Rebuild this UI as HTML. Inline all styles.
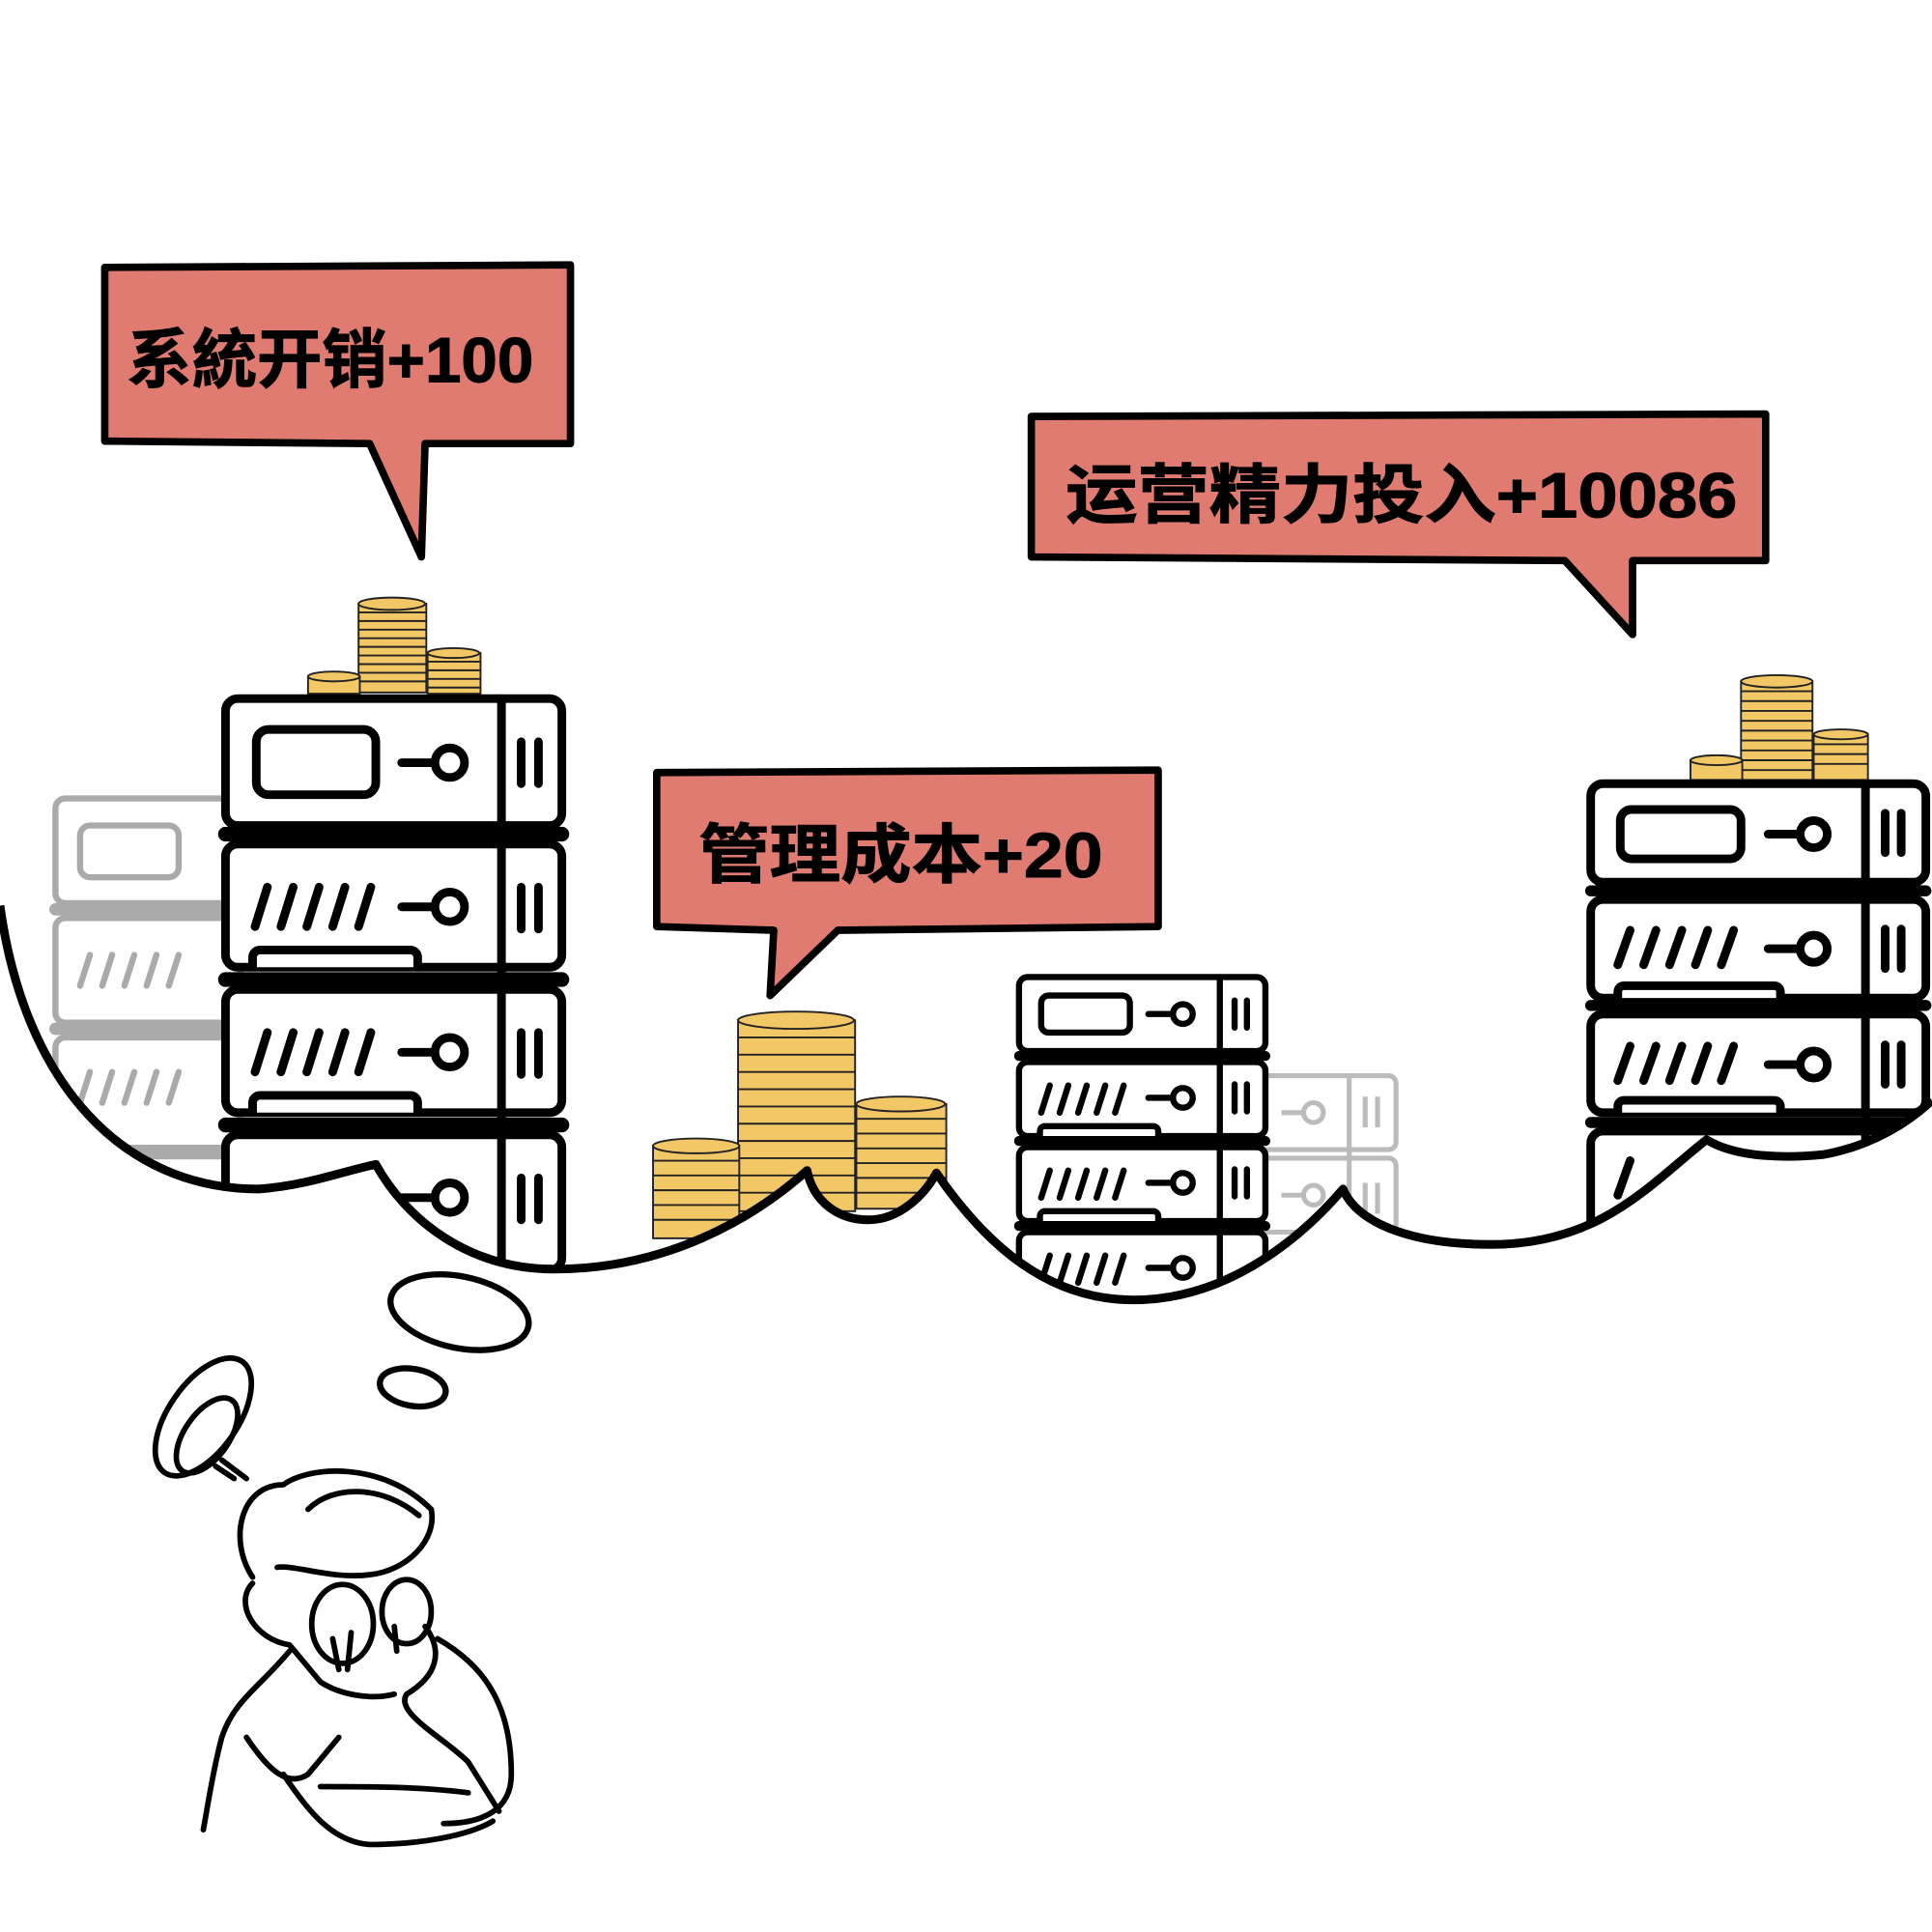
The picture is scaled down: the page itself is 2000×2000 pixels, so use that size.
<!DOCTYPE html>
<html><head><meta charset="utf-8"><style>
html,body{margin:0;padding:0;background:#fff;}
svg{display:block}
text{font-family:"Liberation Sans","Noto Sans CJK SC",sans-serif;}
</style></head><body>
<svg width="2000" height="2000" viewBox="0 0 1568 1568" xmlns="http://www.w3.org/2000/svg">
<rect width="1568" height="1568" fill="#fff"/>

<g fill="#fff" stroke="#aaa" stroke-width="5">
<rect x="45" y="648" width="150" height="85" rx="8"/>
<rect x="65" y="670" width="80" height="42" rx="8"/>
<rect x="45" y="745" width="150" height="85" rx="8"/>
<rect x="45" y="842" width="150" height="95" rx="8"/>
</g>
<g stroke="#aaa" stroke-width="5" stroke-linecap="round">
<line x1="45" y1="738" x2="190" y2="738" stroke-width="10"/>
<line x1="45" y1="835" x2="190" y2="835" stroke-width="10"/>
<line x1="45" y1="935" x2="190" y2="935" stroke-width="12"/>
<path d="M65 800 l8 -25 M83 800 l8 -25 M101 800 l8 -25 M119 800 l8 -25 M137 800 l8 -25"/>
<path d="M65 895 l8 -25 M83 895 l8 -25 M101 895 l8 -25 M119 895 l8 -25 M137 895 l8 -25"/>
</g>
<g fill="#fff" stroke="#bbb" stroke-width="4">
<rect x="1020" y="873" width="113" height="60" rx="6"/>
<rect x="1020" y="940" width="113" height="60" rx="6"/>
<line x1="1095" y1="873" x2="1095" y2="1000"/>
<circle cx="1066" cy="903" r="8"/><line x1="1040" y1="903" x2="1058" y2="903"/>
<circle cx="1066" cy="970" r="8"/><line x1="1040" y1="970" x2="1058" y2="970"/>
<line x1="1108" y1="890" x2="1108" y2="915"/><line x1="1118" y1="890" x2="1118" y2="915"/>
<line x1="1108" y1="960" x2="1108" y2="985"/><line x1="1118" y1="960" x2="1118" y2="985"/>
</g>

<g stroke="#222" stroke-width="1.5" fill="#f2c766">
<rect x="291" y="490" width="55" height="72"/>
<ellipse cx="318" cy="490" rx="27" ry="5"/>
<path d="M291 497h55M291 504h55M291 511h55M291 518h55M291 525h55M291 532h55M291 539h55M291 546h55M291 553h55" fill="none"/>
<rect x="347" y="530" width="43" height="33"/><ellipse cx="368" cy="530" rx="21" ry="4"/>
<path d="M347 537h43M347 544h43M347 551h43M347 558h43" fill="none"/>
<rect x="250" y="549" width="42" height="14"/><ellipse cx="271" cy="549" rx="21" ry="4"/>
<rect x="599" y="828" width="95" height="155"/><ellipse cx="646" cy="828" rx="47" ry="7"/>
<path d="M599 842h95M599 856h95M599 870h95M599 884h95M599 898h95M599 912h95M599 926h95M599 940h95M599 954h95M599 968h95" fill="none"/>
<rect x="695" y="896" width="73" height="85"/><ellipse cx="731" cy="896" rx="36" ry="6"/>
<path d="M695 908h73M695 920h73M695 932h73M695 944h73M695 956h73M695 968h73" fill="none"/>
<rect x="530" y="930" width="70" height="75"/><ellipse cx="565" cy="930" rx="35" ry="6"/>
<path d="M530 942h70M530 954h70M530 966h70M530 978h70M530 990h70" fill="none"/>
<rect x="1413" y="553" width="58" height="80"/><ellipse cx="1442" cy="553" rx="29" ry="5"/>
<path d="M1413 561h58M1413 569h58M1413 577h58M1413 585h58M1413 593h58M1413 601h58M1413 609h58M1413 617h58M1413 625h58" fill="none"/>
<rect x="1472" y="596" width="44" height="37"/><ellipse cx="1494" cy="596" rx="22" ry="4"/>
<path d="M1472 604h44M1472 612h44M1472 620h44" fill="none"/>
<rect x="1372" y="617" width="42" height="16"/><ellipse cx="1393" cy="617" rx="21" ry="4"/>
</g>

<g stroke="#000" stroke-width="7" fill="#fff" stroke-linecap="round">
<rect x="183" y="567" width="273" height="103" rx="10"/>
<rect x="183" y="685" width="273" height="100" rx="10"/>
<rect x="183" y="803" width="273" height="100" rx="10"/>
<rect x="183" y="921" width="273" height="110" rx="10"/>
<line x1="407" y1="567" x2="407" y2="1031"/>
<rect x="208" y="592" width="97" height="53" rx="10"/>
<path d="M326 619h25M326 736h25M326 854h25M326 972h25"/>
<circle cx="365" cy="619" r="12"/><circle cx="365" cy="736" r="12"/><circle cx="365" cy="854" r="12"/><circle cx="365" cy="972" r="12"/>
<path d="M423 602v34M437 602v34M423 720v34M437 720v34M423 838v34M437 838v34M423 956v34M437 956v34"/>
<path d="M207 752l10-32M228 752l10-32M249 752l10-32M270 752l10-32M291 752l10-32"/>
<path d="M207 870l10-32M228 870l10-32M249 870l10-32M270 870l10-32M291 870l10-32"/>
<path d="M205 785v-8a6 6 0 0 1 6-6h122a6 6 0 0 1 6 6v8M205 903v-8a6 6 0 0 1 6-6h122a6 6 0 0 1 6 6v8"/>
<line x1="183" y1="677" x2="456" y2="677" stroke-width="12"/>
<line x1="183" y1="795" x2="456" y2="795" stroke-width="12"/>
<line x1="183" y1="913" x2="456" y2="913" stroke-width="12"/>
<g stroke-width="5">
<rect x="827" y="793" width="200" height="60" rx="7"/>
<rect x="827" y="862" width="200" height="60" rx="7"/>
<rect x="827" y="931" width="200" height="60" rx="7"/>
<rect x="827" y="1000" width="200" height="60" rx="7"/>
<line x1="990" y1="793" x2="990" y2="1060"/>
<rect x="845" y="808" width="72" height="30" rx="6"/>
<path d="M932 823h18M932 891h18M932 960h18M932 1029h18"/>
<circle cx="960" cy="823" r="8"/><circle cx="960" cy="891" r="8"/><circle cx="960" cy="960" r="8"/><circle cx="960" cy="1029" r="8"/>
<path d="M1002 812v22M1012 812v22M1002 880v22M1012 880v22M1002 949v22M1012 949v22"/>
<path d="M845 903l7-22M860 903l7-22M875 903l7-22M890 903l7-22M905 903l7-22"/>
<path d="M845 972l7-22M860 972l7-22M875 972l7-22M890 972l7-22M905 972l7-22"/>
<path d="M845 1041l7-22M860 1041l7-22M875 1041l7-22M890 1041l7-22M905 1041l7-22"/>
<path d="M844 922v-4a4 4 0 0 1 4-4h88a4 4 0 0 1 4 4v4M844 991v-4a4 4 0 0 1 4-4h88a4 4 0 0 1 4 4v4"/>
<line x1="827" y1="857" x2="1027" y2="857" stroke-width="8"/>
<line x1="827" y1="926" x2="1027" y2="926" stroke-width="8"/>
<line x1="827" y1="995" x2="1027" y2="995" stroke-width="8"/>
</g>
<rect x="1291" y="636" width="272" height="80" rx="10"/>
<rect x="1291" y="730" width="272" height="80" rx="10"/>
<rect x="1291" y="823" width="272" height="80" rx="10"/>
<rect x="1291" y="918" width="272" height="90" rx="10"/>
<line x1="1514" y1="636" x2="1514" y2="1008"/>
<rect x="1315" y="657" width="98" height="40" rx="9"/>
<path d="M1435 677h25M1435 770h25M1435 864h25"/>
<circle cx="1472" cy="677" r="11"/><circle cx="1472" cy="770" r="11"/><circle cx="1472" cy="864" r="11"/>
<path d="M1530 660v32M1543 660v32M1530 754v32M1543 754v32M1530 848v32M1543 848v32"/>
<path d="M1313 783l10-28M1334 783l10-28M1355 783l10-28M1376 783l10-28M1397 783l10-28"/>
<path d="M1313 877l10-28M1334 877l10-28M1355 877l10-28M1376 877l10-28M1397 877l10-28"/>
<path d="M1313 970l10-28"/>
<path d="M1313 810v-5a5 5 0 0 1 5-5h122a5 5 0 0 1 5 5v5M1313 903v-5a5 5 0 0 1 5-5h122a5 5 0 0 1 5 5v5"/>
<line x1="1291" y1="723" x2="1563" y2="723" stroke-width="9"/>
<line x1="1291" y1="816" x2="1563" y2="816" stroke-width="9"/>
<line x1="1291" y1="911" x2="1563" y2="911" stroke-width="9"/>
</g>

<path d="M0 735 C20 880 100 965 210 965 C250 962 280 950 305 945 C330 990 380 1030 450 1030 C540 1030 610 990 655 950 C660 975 680 990 705 990 C730 990 750 970 760 952 C800 1010 850 1055 920 1055 C1000 1055 1060 1000 1090 965 C1100 990 1140 1010 1210 1010 C1300 1010 1340 960 1385 925 C1410 940 1450 940 1480 937 C1520 930 1550 910 1568 893 L1568 1568 L0 1568 Z" fill="#fff"/>
<path d="M0 735 C20 880 100 965 210 965 C250 962 280 950 305 945 C330 990 380 1030 450 1030 C540 1030 610 990 655 950 C660 975 680 990 705 990 C730 990 750 970 760 952 C800 1010 850 1055 920 1055 C1000 1055 1060 1000 1090 965 C1100 990 1140 1010 1210 1010 C1300 1010 1340 960 1385 925 C1410 940 1450 940 1480 937 C1520 930 1550 910 1568 893" fill="none" stroke="#000" stroke-width="7" stroke-linejoin="round"/>

<g fill="none" stroke="#000" stroke-width="5">
<ellipse cx="373" cy="1065" rx="57" ry="29" transform="rotate(12 373 1065)"/>
<ellipse cx="335" cy="1126" rx="27" ry="15" transform="rotate(10 335 1126)"/>
</g>

<g fill="none" stroke="#000" stroke-width="4.5" stroke-linecap="round" stroke-linejoin="round">
<ellipse cx="165" cy="1150" rx="28" ry="55" transform="rotate(35 165 1150)"/>
<ellipse cx="168" cy="1165" rx="18" ry="35" transform="rotate(35 168 1165)"/>
<path d="M180 1185 l20 15 M175 1190 l15 10"/>
<path d="M205 1280 C185 1250 195 1205 230 1205 C250 1190 310 1185 350 1225 C355 1250 330 1275 300 1278 C270 1282 240 1270 225 1272"/>
<path d="M250 1225 C270 1205 310 1205 340 1230"/>
<path d="M205 1285 C190 1300 205 1330 235 1335 L260 1365 C275 1375 300 1380 320 1375"/>
<ellipse cx="278" cy="1318" rx="25" ry="32"/>
<ellipse cx="330" cy="1308" rx="20" ry="26"/>
<path d="M270 1330 l5 25 M285 1325 l-3 30 M320 1320 l2 20"/>
<path d="M345 1320 C360 1340 355 1360 330 1375 C320 1390 360 1410 380 1430 L405 1470"/>
<path d="M355 1330 C390 1350 415 1380 415 1440 C415 1470 390 1480 360 1480"/>
<path d="M235 1340 C210 1370 190 1380 180 1410 C172 1440 168 1470 165 1485"/>
<path d="M230 1440 C250 1470 270 1495 300 1497 C340 1497 380 1490 400 1478"/>
<path d="M200 1410 C220 1440 235 1450 250 1440 L275 1410"/>
<path d="M260 1450 C300 1450 340 1450 380 1455"/>
</g>

<g stroke="#000" stroke-width="6" stroke-linejoin="round">
<path d="M85 217 L463 215 L463 360 L345 360 L342 452 L300 360 L85 358 Z" fill="#e07b72"/>
<path d="M837 338 L1433 336 L1433 455 L1325 455 L1325 515 L1270 455 L837 452 Z" fill="#e07b72"/>
<path d="M533 627 L940 625 L940 752 L680 755 L625 808 L628 755 L533 752 Z" fill="#e07b72"/>
</g>
<g fill="#000" font-size="52" font-weight="bold" stroke="#000" stroke-width="0.8">
<text x="103" y="310" textLength="330" lengthAdjust="spacingAndGlyphs">系統开销+100</text>
<text x="865" y="420" textLength="545" lengthAdjust="spacingAndGlyphs">运营精力投入+10086</text>
<text x="567" y="712" textLength="328" lengthAdjust="spacingAndGlyphs">管理成本+20</text>
</g>
</svg>
</body></html>
